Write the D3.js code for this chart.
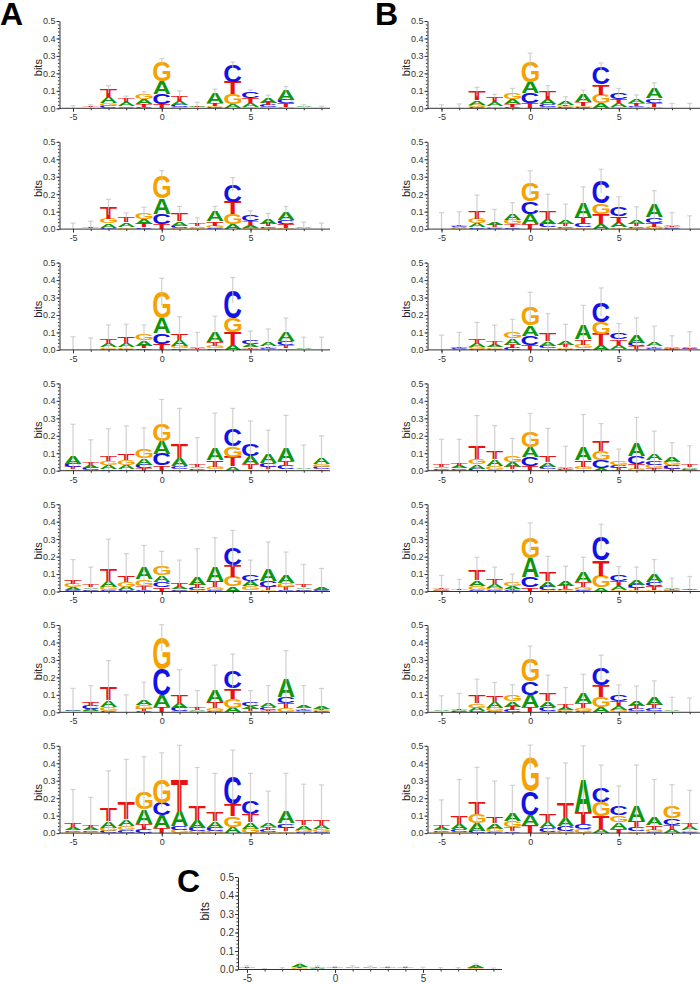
<!DOCTYPE html>
<html><head><meta charset="utf-8">
<script src="https://cdn.jsdelivr.net/npm/d3@7/dist/d3.min.js"></script>
<style>body{margin:0;background:#fff;} svg{display:block;}</style>
</head><body>
<svg id="chart" width="700" height="984"></svg>
<script>
// ---------------- DATA ----------------
const positions = d3.range(-5, 10);           // sequence positions -5 .. 9
const letters = ["A", "C", "G", "T"];
const yTicks = [0, 0.1, 0.2, 0.3, 0.4, 0.5];
const xTickLabels = [-5, 0, 5];
// each row: [A, C, G, T, errorBarTop] in bits, one row per position
const logoA1 = [
 [.001,.001,.001,.002,.015],[.002,.002,.002,.005,.02],[.034,.013,.015,.046,.13],[.02,.004,.01,.022,.07],
 [.028,.01,.03,.012,.095],[.072,.057,.115,.023,.285],[.024,.012,.008,.032,.1],[.01,.002,.003,.004,.035],
 [.06,.006,.01,.015,.11],[.025,.095,.057,.07,.265],[.02,.04,.01,.03,.105],[.03,.012,.006,.014,.075],
 [.055,.021,.01,.019,.125],[.004,.002,.003,.003,.02],[.001,.001,.001,.001,.012]];
const logoA2 = [
 [.002,.002,.002,.003,.035],[.002,.002,.002,.006,.045],[.025,.008,.026,.067,.17],[.025,.003,.01,.03,.093],
 [.03,.01,.035,.018,.125],[.088,.06,.128,.027,.335],[.025,.012,.008,.045,.13],[.008,.003,.005,.015,.065],
 [.055,.008,.012,.025,.13],[.027,.1,.057,.072,.295],[.015,.035,.008,.022,.105],[.03,.01,.005,.012,.09],
 [.045,.025,.008,.018,.13],[.005,.002,.002,.003,.04],[.001,.001,.001,.001,.035]];
const logoA3 = [
 [.001,.001,.001,.002,.075],[.001,.001,.001,.002,.068],[.02,.005,.01,.03,.143],[.025,.005,.01,.035,.147],
 [.03,.01,.035,.015,.143],[.085,.062,.15,.034,.41],[.035,.008,.012,.04,.19],[.01,.002,.003,.005,.1],
 [.055,.008,.012,.025,.193],[.03,.16,.08,.072,.415],[.017,.02,.008,.01,.108],[.02,.008,.005,.01,.12],
 [.05,.025,.01,.015,.183],[.006,.001,.002,.001,.073],[.002,.001,.001,.002,.073]];
const logoA4 = [
 [.042,.018,.008,.015,.266],[.013,.012,.005,.015,.177],[.02,.01,.025,.032,.24],[.025,.01,.027,.04,.257],
 [.035,.02,.05,.015,.245],[.075,.065,.1,.03,.408],[.045,.015,.01,.08,.357],[.01,.008,.005,.015,.19],
 [.068,.01,.012,.04,.33],[.025,.1,.058,.055,.357],[.045,.07,.008,.028,.285],[.05,.023,.008,.015,.232],
 [.07,.02,.01,.025,.317],[.006,.003,.003,.003,.147],[.035,.015,.017,.008,.2]];
const logoA5 = [
 [.017,.008,.02,.025,.183],[.01,.008,.005,.015,.14],[.035,.008,.02,.065,.3],[.022,.006,.026,.04,.217],
 [.065,.008,.04,.022,.264],[.038,.03,.05,.025,.23],[.014,.008,.005,.018,.18],[.045,.012,.008,.02,.245],
 [.08,.01,.015,.033,.308],[.028,.094,.057,.066,.35],[.028,.036,.02,.01,.18],[.068,.035,.008,.02,.283],
 [.043,.008,.023,.02,.226],[.01,.008,.005,.015,.155],[.015,.004,.003,.004,.132]];
const logoA6 = [
 [.01,.004,.003,.003,.137],[.014,.018,.006,.025,.153],[.04,.008,.025,.072,.296],[.002,.001,.001,.001,.1],
 [.03,.008,.02,.012,.172],[.067,.153,.178,.028,.502],[.03,.018,.006,.046,.244],[.008,.003,.005,.011,.124],
 [.067,.01,.014,.033,.27],[.026,.1,.052,.06,.334],[.015,.022,.008,.012,.124],[.018,.013,.005,.01,.153],
 [.1,.034,.022,.032,.353],[.014,.008,.006,.01,.153],[.012,.006,.006,.008,.137]];
const logoA7 = [
 [.015,.01,.008,.018,.25],[.013,.01,.006,.015,.205],[.035,.012,.02,.07,.357],[.04,.015,.025,.095,.422],
 [.083,.022,.1,.032,.437],[.07,.072,.132,.03,.46],[.085,.025,.018,.176,.503],[.045,.018,.012,.08,.376],
 [.04,.018,.012,.05,.342],[.035,.16,.062,.066,.475],[.036,.078,.026,.044,.342],[.025,.012,.008,.015,.24],
 [.065,.025,.01,.02,.342],[.025,.008,.012,.026,.28],[.024,.008,.014,.026,.276]];
const logoB1 = [
 [.001,.001,.001,.001,.02],[.001,.001,.001,.001,.025],[.025,.008,.013,.048,.12],[.022,.003,.01,.028,.08],
 [.032,.01,.035,.013,.114],[.066,.057,.123,.028,.316],[.03,.015,.01,.045,.13],[.02,.005,.006,.01,.066],
 [.042,.006,.01,.018,.104],[.028,.098,.05,.06,.26],[.018,.037,.01,.025,.114],[.025,.01,.005,.013,.076],
 [.062,.025,.01,.022,.146],[.001,.001,.001,.001,.028],[.001,.001,.001,.001,.028]];
const logoB2 = [
 [.003,.002,.002,.003,.094],[.007,.008,.005,.01,.1],[.022,.01,.026,.045,.195],[.015,.004,.006,.011,.113],
 [.04,.01,.028,.016,.151],[.056,.07,.107,.032,.334],[.03,.018,.01,.045,.2],[.022,.01,.006,.014,.143],
 [.083,.025,.01,.035,.242],[.028,.125,.062,.06,.343],[.027,.053,.01,.038,.185],[.023,.01,.007,.015,.128],
 [.07,.03,.012,.025,.22],[.01,.005,.006,.008,.095],[.002,.001,.001,.001,.076]];
const logoB3 = [
 [.003,.002,.002,.003,.085],[.004,.004,.004,.007,.1],[.018,.006,.012,.026,.157],[.014,.005,.01,.018,.142],
 [.035,.012,.038,.018,.175],[.06,.052,.105,.028,.33],[.025,.015,.01,.044,.207],[.02,.006,.008,.013,.147],
 [.078,.01,.02,.03,.255],[.028,.116,.066,.064,.355],[.022,.038,.008,.032,.151],[.045,.02,.008,.012,.183],
 [.02,.008,.005,.01,.136],[.008,.004,.004,.004,.081],[.006,.004,.003,.004,.104]];
const logoB4 = [
 [.01,.008,.005,.013,.18],[.013,.01,.006,.017,.18],[.025,.012,.032,.075,.316],[.04,.006,.022,.045,.258],
 [.028,.01,.034,.014,.185],[.057,.053,.086,.027,.328],[.025,.015,.008,.036,.242],[.01,.005,.004,.008,.14],
 [.073,.008,.016,.04,.322],[.015,.048,.052,.06,.27],[.006,.015,.019,.012,.124],[.07,.043,.012,.028,.305],
 [.04,.025,.02,.015,.227],[.026,.018,.02,.012,.16],[.008,.006,.005,.013,.143]];
const logoB5 = [
 [.007,.005,.005,.008,.092],[.003,.002,.002,.004,.069],[.032,.01,.022,.056,.196],[.022,.006,.015,.03,.14],
 [.014,.006,.02,.01,.1],[.11,.057,.118,.025,.393],[.032,.02,.008,.05,.202],[.03,.008,.006,.018,.145],
 [.055,.01,.013,.03,.196],[.025,.137,.066,.085,.385],[.022,.037,.008,.03,.143],[.03,.018,.006,.012,.14],
 [.045,.025,.01,.02,.183],[.008,.005,.005,.007,.076],[.005,.003,.003,.004,.086]];
const logoB6 = [
 [.004,.003,.003,.003,.095],[.006,.005,.004,.01,.108],[.018,.008,.025,.044,.19],[.034,.006,.018,.037,.171],
 [.032,.012,.036,.018,.158],[.072,.075,.129,.028,.38],[.032,.02,.01,.043,.213],[.014,.005,.007,.018,.142],
 [.058,.01,.016,.03,.218],[.028,.1,.062,.066,.327],[.025,.038,.012,.03,.157],[.03,.012,.006,.018,.15],
 [.043,.015,.008,.02,.18],[.005,.003,.002,.003,.086],[.002,.002,.001,.002,.082]];
const logoB7 = [
 [.012,.01,.005,.015,.19],[.028,.015,.008,.043,.307],[.043,.012,.052,.068,.377],[.032,.008,.018,.04,.298],
 [.046,.01,.035,.022,.274],[.057,.132,.198,.047,.504],[.036,.02,.008,.044,.315],[.045,.028,.012,.085,.402],
 [.183,.028,.025,.066,.5],[.025,.085,.08,.07,.39],[.037,.055,.04,.025,.27],[.085,.025,.01,.035,.39],
 [.045,.008,.012,.025,.307],[.02,.035,.067,.028,.277],[.018,.006,.01,.022,.245]];
const logoC = [
 [.002,.002,.003,.004,.02],[.001,.001,.001,.001,.005],[.002,.002,.001,.001,.01],[.012,.002,.004,.006,.035],
 [.004,.002,.002,.004,.02],[.002,.002,.002,.004,.015],[.006,.002,.002,.003,.02],[.004,.002,.002,.003,.018],
 [.002,.002,.002,.004,.015],[.002,.002,.002,.004,.015],[.001,.002,.001,.003,.012],[.002,.001,.001,.002,.01],
 [.002,.001,.001,.002,.01],[.012,.002,.004,.004,.03],[.001,.002,.001,.001,.008]];

const logosA = [logoA1, logoA2, logoA3, logoA4, logoA5, logoA6, logoA7];
const logosB = [logoB1, logoB2, logoB3, logoB4, logoB5, logoB6, logoB7];

// ---------------- STYLE / LAYOUT ----------------
const letterColors = {A: "#0e960e", C: "#1212e6", G: "#f5a200", T: "#e81212"};
const FONT = "'Liberation Sans', Arial, Helvetica, sans-serif";
const svg = d3.select("#chart");

// ink metrics of glyphs
const cvs = document.createElement("canvas").getContext("2d");
cvs.font = `bold 100px ${FONT}`;
const metrics = {};
letters.forEach(l => {
  const m = cvs.measureText(l);
  metrics[l] = {L: m.actualBoundingBoxLeft, R: m.actualBoundingBoxRight,
                asc: m.actualBoundingBoxAscent, desc: m.actualBoundingBoxDescent};
});

function drawLogo(data, g) {
  const {axisX, x0, unit, xEnd, base, h, fs, bitsDx, bitsDy} = g;
  const x = d3.scaleLinear().domain([-5, 9]).range([x0, x0 + 14 * unit]);
  const y = d3.scaleLinear().domain([0, 0.5]).range([base, base - h]);
  const root = svg.append("g");

  // letters
  const lw = unit * 0.96;
  data.forEach((row, i) => {
    const pos = positions[i];
    const stack = letters.map((l, k) => ({l, v: row[k]})).sort((a, b) => a.v - b.v);
    let cum = 0;
    stack.forEach(s => {
      const yb = y(cum), yt = y(cum + s.v);
      cum += s.v;
      const hh = yb - yt;
      if (hh < 0.6) return;
      const m = metrics[s.l];
      const sx = lw / (m.L + m.R), sy = hh / (m.asc + m.desc);
      const xl = x(pos) - lw / 2;
      root.append("text")
        .attr("transform", `translate(${xl + m.L * sx},${yb - m.desc * sy}) scale(${sx},${sy})`)
        .attr("font-family", FONT).attr("font-weight", "bold").attr("font-size", 100)
        .attr("fill", letterColors[s.l]).text(s.l);
    });
    // error bar
    const top = row[4];
    const lo = Math.max(0, 2 * cum - top);
    root.append("line").attr("x1", x(pos)).attr("x2", x(pos))
      .attr("y1", y(lo)).attr("y2", y(top))
      .attr("stroke", "#c4c4c4").attr("stroke-opacity", 0.75).attr("stroke-width", 1.3);
    root.append("line").attr("x1", x(pos) - 2.5).attr("x2", x(pos) + 2.5)
      .attr("y1", y(top)).attr("y2", y(top))
      .attr("stroke", "#c4c4c4").attr("stroke-opacity", 0.75).attr("stroke-width", 1.2);
  });

  // y axis (minor)
  root.append("g").attr("transform", `translate(${axisX},0)`)
    .call(d3.axisLeft(y).tickValues(d3.range(0, 0.501, 0.02)).tickSize(1.6).tickFormat(""))
    .call(a => a.select(".domain").remove())
    .call(a => a.selectAll("line").attr("stroke", "#333"));
  // y axis (major)
  const ya = root.append("g").attr("transform", `translate(${axisX},0)`)
    .call(d3.axisLeft(y).tickValues(yTicks).tickFormat(d3.format(".1f")).tickSize(3).tickPadding(1).tickSizeOuter(0));
  ya.select(".domain").attr("stroke", "#333");
  ya.selectAll("line").attr("stroke", "#333");
  ya.selectAll("text").attr("font-family", FONT).attr("font-size", fs).attr("fill", "#333");

  // x axis
  const xa = root.append("g").attr("transform", `translate(0,${base})`)
    .call(d3.axisBottom(x).tickValues(positions).tickSize(2).tickFormat(""));
  xa.select(".domain").remove();
  xa.selectAll("line").attr("stroke", "#333");
  const xm = root.append("g").attr("transform", `translate(0,${base})`)
    .call(d3.axisBottom(x).tickValues(xTickLabels).tickSize(3.5).tickPadding(2).tickFormat(d => String(d)));
  xm.select(".domain").remove();
  xm.selectAll("line").attr("stroke", "#333");
  xm.selectAll("text").attr("font-family", FONT).attr("font-size", fs).attr("fill", "#333");
  root.append("line").attr("x1", axisX).attr("x2", xEnd).attr("y1", base).attr("y2", base)
    .attr("stroke", "#333").attr("stroke-width", 1);

  // bits label
  root.append("text").attr("transform", `translate(${axisX - bitsDx},${base - h / 2 + bitsDy}) rotate(-90)`)
    .attr("text-anchor", "middle").attr("font-family", FONT).attr("font-size", fs + 2).attr("fill", "#222")
    .text("bits");
}

const rowBase = d3.range(7).map(i => 108.3 + i * 120.8);
logosA.forEach((d, i) => drawLogo(d, {axisX: 59.5, x0: 73, unit: 17.75, xEnd: 330, base: rowBase[i], h: 87.3, fs: 9, bitsDx: 17.5, bitsDy: 3}));
logosB.forEach((d, i) => drawLogo(d, {axisX: 427.5, x0: 441.5, unit: 17.73, xEnd: 702, base: rowBase[i], h: 87.3, fs: 9, bitsDx: 17.5, bitsDy: 3}));
drawLogo(logoC, {axisX: 238, x0: 247, unit: 17.6, xEnd: 502, base: 969.5, h: 92.5, fs: 10, bitsDx: 29.5, bitsDy: -12});

// panel letters
[["A", 0, 25], ["B", 375, 25], ["C", 177, 892]].forEach(([t, px, py]) => {
  svg.append("text").attr("x", px).attr("y", py).attr("font-family", FONT)
    .attr("font-weight", "bold").attr("font-size", 32).attr("fill", "#000").text(t);
});
</script>
</body></html>
